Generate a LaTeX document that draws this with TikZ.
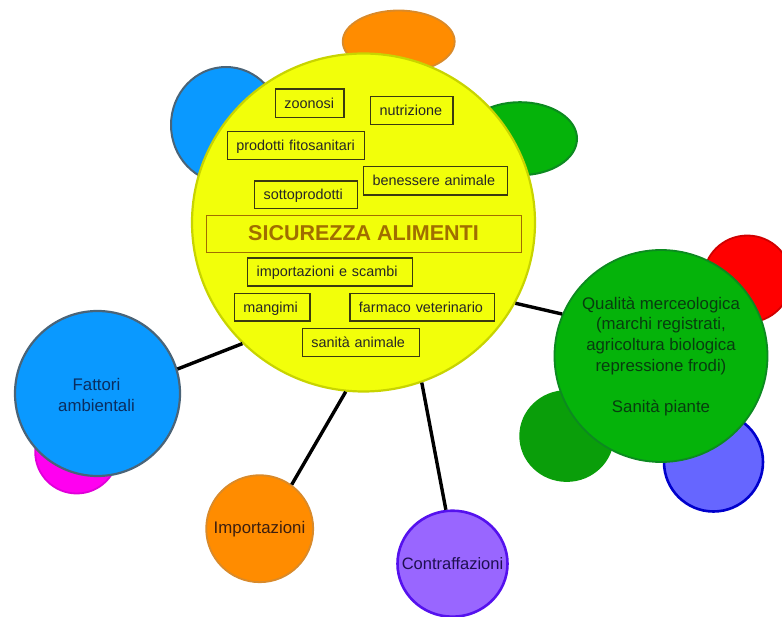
\documentclass[tikz,border=0pt]{standalone}
\usepackage{fontspec}
\setmainfont{Liberation Sans}
\usetikzlibrary{shapes.geometric}
\definecolor{cYellow}{HTML}{F2FF0A}
\definecolor{cYellowD}{HTML}{C8D400}
\definecolor{cOrange}{HTML}{FF8C00}
\definecolor{cOrangeD}{HTML}{D98A2A}
\definecolor{cBlue}{HTML}{0A99FF}
\definecolor{cBlueD}{HTML}{4A6478}
\definecolor{cGreen}{HTML}{05B30A}
\definecolor{cGreenD}{HTML}{0C8A20}
\definecolor{cDkGreen}{HTML}{0A9E0A}
\definecolor{cRed}{HTML}{FF0000}
\definecolor{cRedD}{HTML}{D00000}
\definecolor{cPeri}{HTML}{6666FF}
\definecolor{cPeriD}{HTML}{0000CC}
\definecolor{cMag}{HTML}{FF00F0}
\definecolor{cMagD}{HTML}{E000D8}
\definecolor{cPurple}{HTML}{9966FF}
\definecolor{cPurpleD}{HTML}{5511EE}
\definecolor{cTitle}{HTML}{A06E00}
\definecolor{cBox}{HTML}{3A3A10}
\tikzset{
  blob/.style n args={4}{ellipse,inner sep=0pt,minimum width=#1,minimum height=#2,fill=#3,draw=#4,line width=1.8pt},
  bloblabel/.style={inner sep=0pt,align=center,font=\fontsize{16.8}{20.7}\selectfont},
  tagbox/.style={draw=cBox,line width=1.3pt,anchor=north west,inner xsep=9pt,inner ysep=0pt,align=left,text=black!85,font=\fontsize{14.4}{17}\selectfont,text height=13pt,text depth=3pt},
  link/.style={draw=black,line width=3.4pt}
}
\begin{document}
\begin{tikzpicture}[x=1pt,y=-1pt]
\useasboundingbox (0,0) rectangle (782,617);
% satellites
\node[blob={112pt}{62pt}{cOrange}{cOrangeD}] (sOrange) at (398.7,41.5) {};
\node[blob={110pt}{116pt}{cBlue}{cBlueD},line width=2pt] (sBlue) at (226,125) {};
\node[blob={114pt}{73pt}{cGreen}{cGreenD},line width=2pt] (sGreen) at (520,138.7) {};
\begin{scope}
\clip (0,0) rectangle (782,617);
\node[blob={88pt}{87pt}{cRed}{cRedD}] (sRed) at (747.3,279) {};
\end{scope}
\node[blob={93pt}{90pt}{cDkGreen}{cDkGreen}] (sDkGreen) at (566.7,436) {};
\node[blob={99pt}{99pt}{cPeri}{cPeriD},line width=2.6pt] (sPeri) at (713.5,462) {};
\node[blob={83pt}{83pt}{cMag}{cMagD}] (sMag) at (76.7,452) {};
% connectors run under the main circles
\node[blob={343pt}{338pt}{cYellow}{cYellowD},line width=2.2pt] (main) at (363.5,222.5) {};
\node[blob={165pt}{165pt}{cBlue}{cBlueD},line width=2.2pt] (fattori) at (97.5,393.5) {};
\node[blob={213pt}{212pt}{cGreen}{cGreenD}] (qual) at (661,356) {};
\node[blob={107pt}{107pt}{cOrange}{cOrangeD}] (imp) at (259.7,528.7) {};
\node[blob={110pt}{106pt}{cPurple}{cPurpleD},line width=2.6pt] (contra) at (452.5,563.7) {};
\draw[link] (main.225) -- (fattori.17);
\draw[link] (main.264) -- (imp.54);
\draw[link] (main.290) -- (contra.97);
\draw[link] (main.-28) -- (qual.157);
% circle labels
\node[bloblabel,text={rgb,255:red,10;green,45;blue,95}] (fattoriT) at (96.5,395) {Fattori\\ambientali};
\node[bloblabel,text={rgb,255:red,8;green,60;blue,15}] (qualT) at (661,356.5) {Qualità merceologica\\(marchi registrati,\\agricoltura biologica\\repressione frodi)\\[20.7pt]Sanità piante};
\node[bloblabel,text={rgb,255:red,60;green,30;blue,15}] (impT) at (259.5,529) {Importazioni};
\node[bloblabel,text={rgb,255:red,30;green,15;blue,80},font=\fontsize{16.5}{20}\selectfont] (contraT) at (452.5,564) {Contraffazioni};
% title
\node[draw=cTitle,line width=1pt,minimum width=315pt,minimum height=37pt,inner sep=0pt,text=cTitle,font=\fontsize{21.5}{24}\selectfont\bfseries] (title) at (363.5,233.6) {SICUREZZA ALIMENTI};
% topic boxes
\node[tagbox,text width=50.6pt,minimum height=28.4pt] (zoonosi) at (274.7,88.3) {zoonosi};
\node[tagbox,text width=64.3pt,minimum height=28.4pt] (nutri) at (370,95.7) {nutrizione};
\node[tagbox,text width=119pt,minimum height=28.4pt] (fito) at (226.7,130.7) {prodotti fitosanitari};
\node[tagbox,text width=126pt,minimum height=28.4pt] (benes) at (363,166) {benessere animale};
\node[tagbox,text width=84.7pt,minimum height=27.4pt] (sotto) at (254,180.3) {sottoprodotti};
\node[tagbox,text width=146.7pt,minimum height=28pt] (impsc) at (247,257.3) {importazioni e scambi};
\node[tagbox,text width=57.6pt,minimum height=27.6pt] (mang) at (233.7,292.7) {mangimi};
\node[tagbox,text width=126.7pt,minimum height=27.6pt] (farm) at (349.3,292.7) {farmaco veterinario};
\node[tagbox,text width=99pt,minimum height=28pt] (sanita) at (301.7,327.7) {sanità animale};
\end{tikzpicture}
\end{document}
